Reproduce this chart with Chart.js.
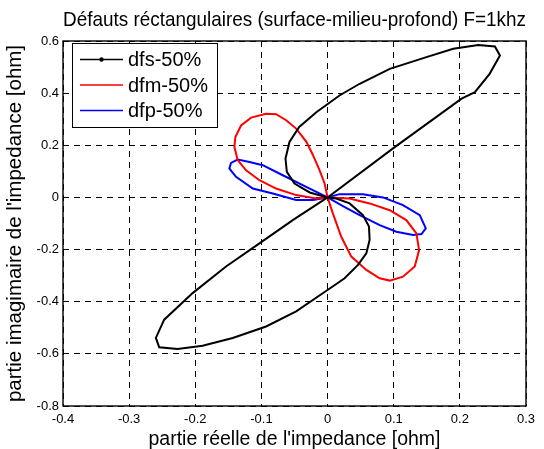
<!DOCTYPE html>
<html>
<head>
<meta charset="utf-8">
<script src="https://cdn.jsdelivr.net/npm/chart.js@4.4.0/dist/chart.umd.min.js"></script>
<style>
  html, body { margin: 0; padding: 0; background: #fff; }
  #wrap { width: 544px; height: 449px; position: relative; }
</style>
</head>
<body>
<div id="wrap"><canvas id="chart"></canvas></div>
<script>
// ---- data ----
const xTicks = [-0.4, -0.3, -0.2, -0.1, 0, 0.1, 0.2, 0.3];
const xTickLabels = ['-0.4', '-0.3', '-0.2', '-0.1', '0', '0.1', '0.2', '0.3'];
const yTicks = [-0.8, -0.6, -0.4, -0.2, 0, 0.2, 0.4, 0.6];
const yTickLabels = ['-0.8', '-0.6', '-0.4', '-0.2', '0', '0.2', '0.4', '0.6'];

const seriesLabels = ['dfs-50%', 'dfm-50%', 'dfp-50%'];
const seriesColors = ['#000000', '#ff0000', '#0000ff'];

const dfsX = [0, 0.1, 0.2026, 0.2227, 0.245, 0.2606, 0.253, 0.2278, 0.19, 0.1495, 0.094, 0.0485, 0.018, -0.017, -0.0429, -0.0576, -0.0636, -0.0616, -0.05, -0.027, 0,
  0.0131, 0.0333, 0.0535, 0.0626, 0.0636, 0.0586, 0.046, 0.0258, 0.0005, -0.0475, -0.093, -0.1434, -0.189, -0.2268, -0.2545, -0.2596, -0.247, -0.204, -0.1535, -0.103, -0.0526, 0];
const dfsY = [0, 0.19, 0.379, 0.404, 0.474, 0.544, 0.579, 0.585, 0.57, 0.538, 0.493, 0.436, 0.391, 0.327, 0.27, 0.213, 0.149, 0.098, 0.053, 0.019, 0,
  -0.004, -0.023, -0.068, -0.112, -0.163, -0.214, -0.259, -0.31, -0.354, -0.437, -0.495, -0.539, -0.569, -0.581, -0.575, -0.539, -0.469, -0.367, -0.265, -0.176, -0.087, 0];

const dfmX = [0, -0.0045, -0.012, -0.022, -0.032, -0.0475, -0.0626, -0.0778, -0.093, -0.1156, -0.1308, -0.1394, -0.1409, -0.1359, -0.1232, -0.103, -0.0778, -0.0475, -0.017, 0,
  0.0333, 0.0636, 0.094, 0.119, 0.1343, 0.1384, 0.1318, 0.114, 0.094, 0.0788, 0.0586, 0.0359, 0.0207, 0.008, 0];
const dfmY = [0, 0.0535, 0.104, 0.162, 0.213, 0.264, 0.296, 0.319, 0.321, 0.306, 0.276, 0.232, 0.194, 0.143, 0.104, 0.066, 0.034, 0.009, -0.004, 0,
  -0.004, -0.023, -0.049, -0.087, -0.138, -0.202, -0.265, -0.304, -0.319, -0.31, -0.278, -0.227, -0.151, -0.061, 0];

const dfpX = [0, -0.0323, -0.0677, -0.098, -0.118, -0.1359, -0.146, -0.1485, -0.1384, -0.113, -0.0828, -0.0475, -0.022, 0,
  0.018, 0.0535, 0.0838, 0.114, 0.1394, 0.1485, 0.142, 0.1293, 0.104, 0.0788, 0.0485, 0.0232, 0];
const dfpY = [0, 0.0405, 0.085, 0.1235, 0.136, 0.145, 0.1325, 0.111, 0.079, 0.034, 0.015, -0.01, -0.01, 0,
  0.0126, 0.0126, 0, -0.0294, -0.068, -0.1186, -0.1403, -0.144, -0.1315, -0.106, -0.068, -0.0333, 0];

const FONT = '"Liberation Sans", Arial, Helvetica, sans-serif';

function toPoints(xs, ys) {
  return xs.map((x, i) => ({ x: x, y: ys[i] }));
}

// box around the axes (MATLAB "box on")
const frame = {
  id: 'frame',
  afterDatasetsDraw(chart) {
    const { ctx, chartArea: a } = chart;
    ctx.save();
    ctx.strokeStyle = '#000';
    ctx.lineWidth = 1.4;
    ctx.strokeRect(a.left, a.top, a.right - a.left, a.bottom - a.top);
    ctx.restore();
  }
};

// legend in the upper-left corner of the axes
const insideLegend = {
  id: 'insideLegend',
  afterDraw(chart) {
    const { ctx, chartArea: a } = chart;
    const x0 = a.left + 9, y0 = a.top + 2, w = 145, h = 84;
    ctx.save();
    ctx.fillStyle = '#fff';
    ctx.fillRect(x0, y0, w, h);
    ctx.strokeStyle = '#000';
    ctx.lineWidth = 1;
    ctx.strokeRect(x0 + 0.5, y0 + 0.5, w, h);
    ctx.font = '20px ' + FONT;
    ctx.textBaseline = 'middle';
    chart.data.datasets.forEach((ds, i) => {
      const cy = y0 + 16.5 + i * 25.5;
      ctx.strokeStyle = ds.borderColor;
      ctx.lineWidth = 1.6;
      ctx.beginPath();
      ctx.moveTo(x0 + 8, cy);
      ctx.lineTo(x0 + 51, cy);
      ctx.stroke();
      if (i === 0) {
        ctx.fillStyle = ds.borderColor;
        ctx.beginPath();
        ctx.arc(x0 + 29.5, cy, 2.2, 0, Math.PI * 2);
        ctx.fill();
      }
      ctx.fillStyle = '#000';
      ctx.fillText(ds.label, x0 + 56, cy + 1);
    });
    ctx.restore();
  }
};

const xs = [dfsX, dfmX, dfpX];
const ys = [dfsY, dfmY, dfpY];

const chart = new Chart(document.getElementById('chart'), {
  type: 'scatter',
  data: {
    datasets: seriesLabels.map((label, i) => ({
      label: label,
      data: toPoints(xs[i], ys[i]),
      showLine: true,
      borderColor: seriesColors[i],
      backgroundColor: seriesColors[i],
      borderWidth: 2,
      pointRadius: 0,
      tension: 0
    }))
  },
  options: {
    responsive: true,
    maintainAspectRatio: false,
    animation: false,
    layout: { padding: { top: 0, right: 18, bottom: 0, left: 0 } },
    plugins: {
      legend: { display: false },
      tooltip: { enabled: false },
      title: {
        display: true,
        fullSize: false,
        text: 'Défauts réctangulaires (surface-milieu-profond) F=1khz',
        color: '#000',
        font: { family: FONT, size: 21, weight: 'normal', lineHeight: 1.2 },
        padding: { top: 8, bottom: 7.8 }
      }
    },
    scales: {
      x: {
        type: 'linear',
        min: -0.4,
        max: 0.3,
        afterBuildTicks: (s) => { s.ticks = xTicks.map(v => ({ value: v })); },
        afterFit: (s) => { s.height = 43; },
        grid: { color: '#000', lineWidth: 1, drawTicks: false },
        border: { display: false, dash: [6, 5] },
        ticks: {
          color: '#000',
          padding: 6,
          font: { family: FONT, size: 13 },
          callback: (v, i) => xTickLabels[i]
        },
        title: {
          display: true,
          text: "partie réelle de l'impedance [ohm]",
          color: '#000',
          font: { family: FONT, size: 19.5, lineHeight: 1 },
          padding: { top: 0, bottom: 0 }
        }
      },
      y: {
        type: 'linear',
        min: -0.8,
        max: 0.6,
        afterBuildTicks: (s) => { s.ticks = yTicks.map(v => ({ value: v })); },
        afterFit: (s) => { s.width = 63; },
        grid: { color: '#000', lineWidth: 1, drawTicks: false },
        border: { display: false, dash: [6, 5] },
        ticks: {
          color: '#000',
          padding: 4,
          font: { family: FONT, size: 13 },
          callback: (v, i) => yTickLabels[i]
        },
        title: {
          display: true,
          text: "partie imagimaire de l'impedance [ohm]",
          color: '#000',
          font: { family: FONT, size: 20.5, lineHeight: 1 },
          padding: { top: 5, bottom: 0 }
        }
      }
    }
  },
  plugins: [frame, insideLegend]
});
</script>
</body>
</html>
